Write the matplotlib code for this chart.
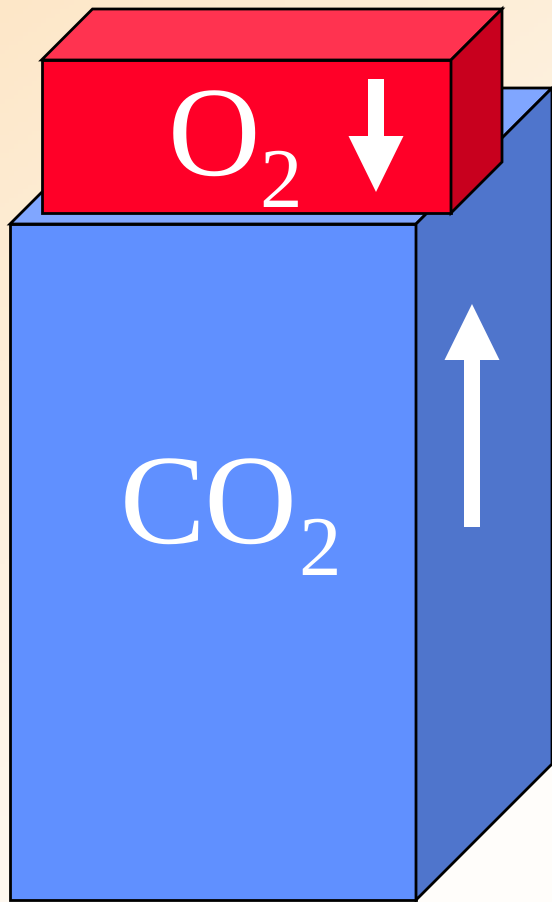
import matplotlib.pyplot as plt
import numpy as np
from matplotlib.patches import Polygon, FancyArrow

plt.rcParams['font.family'] = ['Liberation Serif', 'DejaVu Serif']
plt.rcParams['text.hinting'] = 'no_hinting'
plt.rcParams['text.hinting_factor'] = 1

# Caixas: (x esquerda, y topo, x direita, y base, profundidade) em pixels
blue_box = (10, 224, 416, 900, 136)
red_box = (41.5, 60, 451, 213, 51)

blue_colors = ['#6090ff', '#80a6ff', '#4f75cc']   # frente, topo, lado
red_colors = ['#ff0028', '#ff3350', '#c8001e']

labels = ['O', 'CO']
label_pos = [(214, 176), (208.5, 544)]
sub_pos = [(281, 207), (320, 575)]

# setas: (x, y inicio, y fim)
arrows = [(376, 79, 192), (472, 527, 304)]


def draw_box(ax, box, colors):
    x0, y0, x1, y1, d = box
    front = [(x0, y0), (x1, y0), (x1, y1), (x0, y1)]
    top = [(x0, y0), (x1, y0), (x1 + d, y0 - d), (x0 + d, y0 - d)]
    side = [(x1, y0), (x1 + d, y0 - d), (x1 + d, y1 - d), (x1, y1)]
    for pts, c in zip([front, top, side], colors):
        ax.add_patch(Polygon(pts, closed=True, facecolor=c, edgecolor='black',
                             linewidth=2.0, joinstyle='miter'))


fig = plt.figure(figsize=(5.52, 9.02), dpi=100)
ax = fig.add_axes([0, 0, 1, 1])
ax.set_xlim(0, 552)
ax.set_ylim(902, 0)
ax.axis('off')

# fundo em degradê
yy, xx = np.mgrid[0:1:200j, 0:1:120j]
t = np.clip(0.8 * yy + 0.35 * xx, 0, 1)
c0 = np.array([253, 231, 200]) / 255
c1 = np.array([255, 253, 250]) / 255
img = c0[None, None, :] * (1 - t[..., None]) + c1[None, None, :] * t[..., None]
ax.imshow(img, extent=[0, 552, 902, 0], aspect='auto', zorder=0)

draw_box(ax, blue_box, blue_colors)
draw_box(ax, red_box, red_colors)

for lab, (x, y), (sx, sy) in zip(labels, label_pos, sub_pos):
    ax.text(x, y, lab, color='white', fontsize=92, ha='center', va='baseline')
    ax.text(sx, sy, '2', color='white', fontsize=61, ha='center', va='baseline')

for x, ya, yb in arrows:
    ax.add_patch(FancyArrow(x, ya, 0, yb - ya, width=16, head_width=55,
                            head_length=56, length_includes_head=True,
                            color='white', linewidth=0))

fig.savefig('out.png', dpi=100)
